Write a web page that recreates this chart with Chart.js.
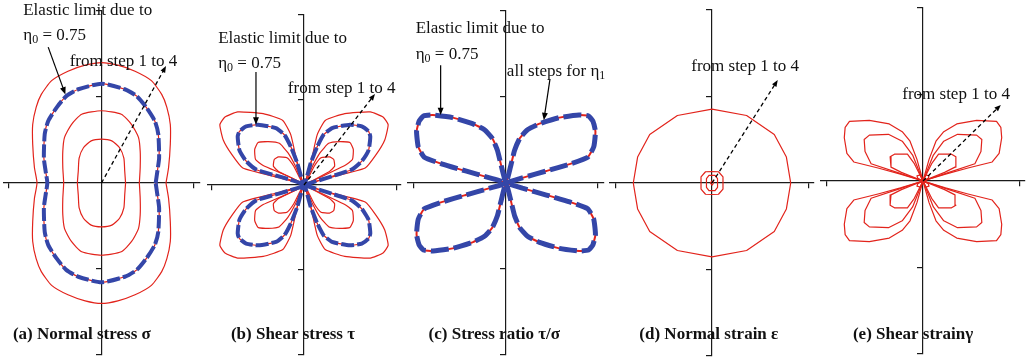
<!DOCTYPE html>
<html>
<head>
<meta charset="utf-8">
<script src="https://cdn.jsdelivr.net/npm/chart.js@4.4.1/dist/chart.umd.min.js"></script>
<style>
  html, body { margin: 0; padding: 0; background: #fff; }
  #wrap { position: relative; width: 1028px; height: 359px; }
  #wrap canvas { position: absolute; left: 0; top: 0; }
</style>
</head>
<body>
<div id="wrap">
  <canvas id="pa" width="1028" height="359"></canvas>
  <canvas id="pb" width="1028" height="359"></canvas>
  <canvas id="pc" width="1028" height="359"></canvas>
  <canvas id="pd" width="1028" height="359"></canvas>
  <canvas id="pe" width="1028" height="359"></canvas>
</div>
<script>
// one quadrant of every curve (x, y), mirrored into the other three
// units: one vertical tick = 1

// (a) normal stress, steps 1..4 (step 3 = elastic limit)
const sigmaStep1 = [[0.28, 0], [0.27, 0.14], [0.26, 0.29], [0.21, 0.41], [0.12, 0.49], [0, 0.51]];
const sigmaStep2 = [[0.44, 0], [0.45, 0.18], [0.45, 0.37], [0.43, 0.53], [0.35, 0.68], [0.23, 0.80], [0, 0.84]];
const sigmaStep3 = [[0.63, 0], [0.65, 0.14], [0.67, 0.29], [0.66, 0.57], [0.62, 0.72], [0.52, 0.88], [0.41, 1.01], [0.27, 1.09], [0, 1.155]];
const sigmaStep4 = [[0.75, 0], [0.78, 0.18], [0.80, 0.45], [0.80, 0.68], [0.76, 0.88], [0.70, 1.03], [0.58, 1.19], [0.39, 1.30], [0.19, 1.37], [0, 1.40]];

// (b) shear stress
const tauStep1 = [[0, 0], [0.30, 0.16], [0.36, 0.22], [0.35, 0.30], [0.30, 0.33], [0.20, 0.32], [0.12, 0.22], [0, 0]];
const tauStep2 = [[0, 0], [0.48, 0.23], [0.57, 0.30], [0.58, 0.42], [0.54, 0.50], [0.42, 0.51], [0.29, 0.49], [0.19, 0.38], [0.10, 0.22], [0, 0]];
const tauStep3 = [[0, 0], [0.56, 0.18], [0.68, 0.28], [0.76, 0.41], [0.78, 0.57], [0.76, 0.63], [0.68, 0.69], [0.54, 0.71], [0.33, 0.67], [0.23, 0.59], [0.155, 0.45], [0.08, 0.26], [0, 0]];
const tauStep4 = [[0, 0], [0.29, 0.085], [0.72, 0.20], [0.85, 0.36], [0.95, 0.53], [0.99, 0.71], [0.93, 0.80], [0.78, 0.86], [0.48, 0.84], [0.25, 0.76], [0.155, 0.59], [0.08, 0.26], [0, 0]];

// (c) stress ratio, same for all steps
const ratioAllSteps = [[0, 0], [0.19, 0.06], [0.47, 0.14], [0.74, 0.22], [0.95, 0.30], [1.02, 0.42], [1.04, 0.60], [1.01, 0.72], [0.96, 0.78], [0.85, 0.79], [0.62, 0.76], [0.39, 0.69], [0.25, 0.62], [0.16, 0.52], [0.10, 0.38], [0.06, 0.22], [0, 0]];

// (d) normal strain
const epsStep1 = [[0.02, 0], [0, 0.025]];
const epsStep2 = [[0.064, 0], [0.064, 0.05], [0.035, 0.087], [0, 0.087]];
const epsStep3 = [[0.127, 0], [0.127, 0.07], [0.075, 0.13], [0, 0.133]];
const epsStep4 = [[0.91, 0], [0.86, 0.30], [0.72, 0.56], [0.40, 0.78], [0, 0.855]];

// (e) shear strain
const gammaStep1 = [[0, 0], [0.06, 0.03], [0.07, 0.06], [0.03, 0.07], [0, 0]];
const gammaStep2 = [[0, 0], [0.25, 0.10], [0.37, 0.16], [0.38, 0.28], [0.33, 0.31], [0.18, 0.31], [0.10, 0.20], [0, 0]];
const gammaStep3 = [[0, 0], [0.30, 0.10], [0.60, 0.20], [0.67, 0.34], [0.68, 0.48], [0.62, 0.53], [0.40, 0.54], [0.24, 0.46], [0.12, 0.30], [0, 0]];
const gammaStep4 = [[0, 0], [0.26, 0.08], [0.52, 0.15], [0.80, 0.22], [0.88, 0.32], [0.91, 0.50], [0.90, 0.62], [0.85, 0.69], [0.62, 0.70], [0.39, 0.66], [0.24, 0.57], [0.15, 0.46], [0.07, 0.25], [0, 0]];

const yTicks = [-2, -1, 1, 2];

const RED = '#e2231b';
const BLUE = '#3446a8';
const FONT = '"Liberation Serif", "Times New Roman", serif';

function closedLoop(q) {
    const pts = [];
    const push = (x, y) => {
        const last = pts[pts.length - 1];
        if (!last || last.x !== x || last.y !== y) pts.push({ x, y });
    };
    q.forEach(([x, y]) => push(x, y));
    [...q].reverse().forEach(([x, y]) => push(-x, y));
    q.forEach(([x, y]) => push(-x, -y));
    [...q].reverse().forEach(([x, y]) => push(x, -y));
    return pts;
}

function redLine(q, tension, width) {
    return {
        data: closedLoop(q),
        borderColor: RED,
        borderWidth: width || 1.2,
        tension: tension,
        order: 2
    };
}

function blueLine(q, tension, width, dash) {
    return {
        data: closedLoop(q),
        borderColor: BLUE,
        borderWidth: width,
        borderDash: dash,
        tension: tension,
        order: 1
    };
}

// annotations: texts and arrows, placed in data units
const notesPlugin = {
    id: 'notes',
    afterDatasetsDraw(chart, args, opts) {
        const ctx = chart.ctx;
        const px = v => chart.scales.x.getPixelForValue(v);
        const py = v => chart.scales.y.getPixelForValue(v);
        ctx.save();
        (opts.arrows || []).forEach(a => {
            const x1 = px(a.from[0]), y1 = py(a.from[1]);
            const x2 = px(a.to[0]), y2 = py(a.to[1]);
            const ang = Math.atan2(y2 - y1, x2 - x1);
            const head = a.dashed ? 7 : 8;
            ctx.strokeStyle = '#000';
            ctx.fillStyle = '#000';
            ctx.lineWidth = a.dashed ? 1.3 : 1.2;
            ctx.setLineDash(a.dashed ? [4, 3] : []);
            ctx.beginPath();
            ctx.moveTo(x1, y1);
            ctx.lineTo(x2 - Math.cos(ang) * head * 0.7, y2 - Math.sin(ang) * head * 0.7);
            ctx.stroke();
            ctx.setLineDash([]);
            ctx.beginPath();
            ctx.moveTo(x2, y2);
            ctx.lineTo(x2 - head * Math.cos(ang - 0.38), y2 - head * Math.sin(ang - 0.38));
            ctx.lineTo(x2 - head * Math.cos(ang + 0.38), y2 - head * Math.sin(ang + 0.38));
            ctx.closePath();
            ctx.fill();
        });
        (opts.texts || []).forEach(t => {
            let x = px(t.at[0]);
            const y = py(t.at[1]);
            ctx.fillStyle = '#111';
            ctx.textBaseline = 'alphabetic';
            ctx.textAlign = 'left';
            t.runs.forEach(r => {
                const sub = typeof r !== 'string';
                const s = sub ? r.sub : r;
                ctx.font = (t.bold ? 'bold ' : '') + (sub ? 12 : 17) + 'px ' + FONT;
                ctx.fillText(s, x, y + (sub ? 3 : 0));
                x += ctx.measureText(s).width;
            });
        });
        ctx.restore();
    }
};

const panels = [
    {
        id: 'pa', cx: 101.5, cy: 183, u: 86, xMax: 1.14, xTick: 1.075,
        datasets: [
            blueLine(sigmaStep3, 0.2, 4, [13, 3]),
            redLine(sigmaStep1, 0.2), redLine(sigmaStep2, 0.2),
            redLine(sigmaStep3, 0.2), redLine(sigmaStep4, 0.2)
        ],
        notes: {
            texts: [
                { at: [-0.91, 1.95], runs: ['Elastic limit due to'] },
                { at: [-0.91, 1.66], runs: ['η', { sub: '0' }, ' = 0.75'] },
                { at: [-0.37, 1.36], runs: ['from step 1 to 4'] },
                { at: [-1.03, -1.81], runs: ['(a) Normal stress σ'], bold: true }
            ],
            arrows: [
                { from: [-0.62, 1.58], to: [-0.42, 1.03] },
                { from: [0, 0], to: [0.75, 1.36], dashed: true }
            ]
        }
    },
    {
        id: 'pb', cx: 304, cy: 185, u: 85, xMax: 1.14, xTick: 1.09,
        datasets: [
            blueLine(tauStep3, 0.15, 4, [13, 3]),
            redLine(tauStep1, 0.15), redLine(tauStep2, 0.15),
            redLine(tauStep3, 0.15), redLine(tauStep4, 0.15)
        ],
        notes: {
            texts: [
                { at: [-1.01, 1.67], runs: ['Elastic limit due to'] },
                { at: [-1.01, 1.38], runs: ['η', { sub: '0' }, ' = 0.75'] },
                { at: [-0.19, 1.08], runs: ['from step 1 to 4'] },
                { at: [-0.86, -1.81], runs: ['(b) Shear stress τ'], bold: true }
            ],
            arrows: [
                { from: [-0.565, 1.33], to: [-0.565, 0.71] },
                { from: [0, 0], to: [0.835, 1.07], dashed: true }
            ]
        }
    },
    {
        id: 'pc', cx: 506, cy: 183, u: 86, xMax: 1.14, xTick: 1.07,
        datasets: [
            blueLine(ratioAllSteps, 0.15, 5, [18, 5]),
            redLine(ratioAllSteps, 0.15, 2)
        ],
        notes: {
            texts: [
                { at: [-1.05, 1.74], runs: ['Elastic limit due to'] },
                { at: [-1.05, 1.44], runs: ['η', { sub: '0' }, ' = 0.75'] },
                { at: [0.01, 1.24], runs: ['all steps for η', { sub: '1' }] },
                { at: [-0.90, -1.81], runs: ['(c) Stress ratio τ/σ'], bold: true }
            ],
            arrows: [
                { from: [-0.76, 1.37], to: [-0.76, 0.79] },
                { from: [0.51, 1.20], to: [0.44, 0.73] }
            ]
        }
    },
    {
        id: 'pd', cx: 712, cy: 183, u: 86.5, xMax: 1.18, xTick: 1.115,
        datasets: [
            redLine(epsStep1, 0), redLine(epsStep2, 0),
            redLine(epsStep3, 0), redLine(epsStep4, 0)
        ],
        notes: {
            texts: [
                { at: [-0.24, 1.29], runs: ['from step 1 to 4'] },
                { at: [-0.84, -1.80], runs: ['(d) Normal strain ε'], bold: true }
            ],
            arrows: [
                { from: [0, 0], to: [0.76, 1.19], dashed: true }
            ]
        }
    },
    {
        id: 'pe', cx: 923, cy: 181, u: 86.5, xMax: 1.18, xTick: 1.12,
        datasets: [
            redLine(gammaStep1, 0), redLine(gammaStep2, 0),
            redLine(gammaStep3, 0), redLine(gammaStep4, 0)
        ],
        notes: {
            texts: [
                { at: [-0.24, 0.95], runs: ['from step 1 to 4'] },
                { at: [-0.81, -1.83], runs: ['(e) Shear strainγ'], bold: true }
            ],
            arrows: [
                { from: [0, 0], to: [0.90, 0.88], dashed: true }
            ]
        }
    }
];

const axisStyle = {
    ticks: { display: false },
    grid: { drawOnChartArea: false, drawTicks: true, tickLength: 5, color: '#1a1a1a', lineWidth: 1.2 },
    border: { display: true, color: '#1a1a1a', width: 1.2 }
};

panels.forEach(p => {
    const left = p.cx - p.xMax * p.u;
    const right = p.cx + p.xMax * p.u;
    const top = p.cy - 2 * p.u;
    const bottom = p.cy + 2 * p.u;

    new Chart(document.getElementById(p.id), {
        type: 'scatter',
        data: {
            datasets: p.datasets.map(d => Object.assign({
                showLine: true,
                fill: false,
                pointRadius: 0,
                borderJoinStyle: 'round'
            }, d))
        },
        options: {
            responsive: false,
            animation: false,
            events: [],
            layout: {
                autoPadding: false,
                padding: { left: left, right: 1028 - right, top: top, bottom: 359 - bottom }
            },
            scales: {
                x: Object.assign({
                    type: 'linear', min: -p.xMax, max: p.xMax, position: { y: 0 },
                    afterBuildTicks: s => { s.ticks = [-p.xTick, p.xTick].map(v => ({ value: v })); }
                }, axisStyle),
                y: Object.assign({
                    type: 'linear', min: -2, max: 2, position: { x: 0 },
                    afterBuildTicks: s => { s.ticks = yTicks.map(v => ({ value: v })); }
                }, axisStyle)
            },
            plugins: {
                legend: { display: false },
                tooltip: { enabled: false },
                notes: p.notes
            }
        },
        plugins: [notesPlugin]
    });
});
</script>
</body>
</html>
